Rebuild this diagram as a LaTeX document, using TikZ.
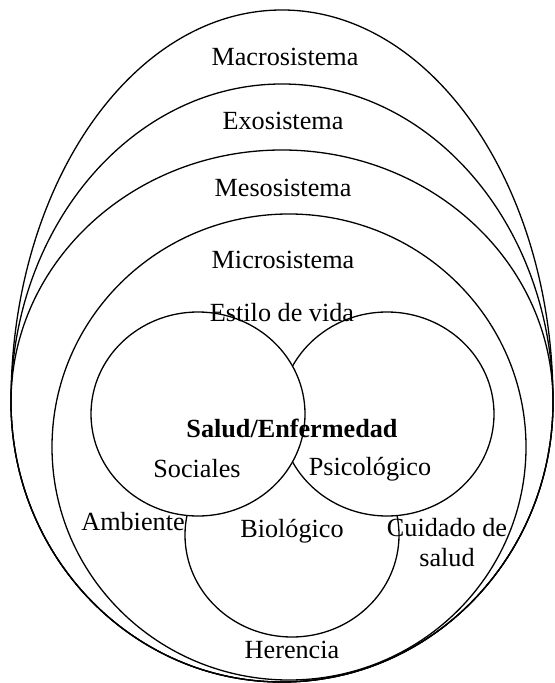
\documentclass[tikz,border=0pt]{standalone}
\usepackage{fontspec}
\setmainfont{Liberation Serif}
\usetikzlibrary{positioning}

\begin{document}
\begin{tikzpicture}[x=0.5pt,y=-0.5pt,line join=bevel,
  ring/.style={draw=black,line width=0.65pt},
  sphere/.style={draw=black,fill=white,line width=0.65pt},
  txt/.style={inner sep=0pt,align=center,font=\fontsize{13.1}{15}\selectfont}]
  \useasboundingbox (0,0) rectangle (554,683);
%%
  % Ring: Macrosistema
  \draw[ring] (11,402) arc[start angle=180,end angle=360,x radius=271,y radius=392]
    arc[start angle=0,end angle=180,x radius=271,y radius=280];
  % Ring: Exosistema
  \draw[ring] (11,402) arc[start angle=180,end angle=360,x radius=271,y radius=318]
    arc[start angle=0,end angle=180,x radius=271,y radius=280];
  % Ring: Mesosistema
  \draw[ring] (11,402) arc[start angle=180,end angle=360,x radius=271,y radius=252]
    arc[start angle=0,end angle=180,x radius=271,y radius=280];
  % Ring: Microsistema
  \draw[ring] (289,447) ellipse[x radius=237,y radius=233];
  % Circle: Biologico
  \draw[sphere] (292,535) ellipse[x radius=107,y radius=102];
  % Circle: Psicologico
  \draw[sphere] (387,414) ellipse[x radius=107,y radius=102];
  % Circle: Sociales
  \draw[sphere] (198,414) ellipse[x radius=107,y radius=102];
%%
  \node[txt] (macro) at (285,57) {Macrosistema};
  \node[txt] (exo) at (283,121) {Exosistema};
  \node[txt] (meso) at (283,188) {Mesosistema};
  \node[txt] (micro) at (283,260) {Microsistema};
  \node[txt] (estilo) at (282,313) {Estilo de vida};
  \node[txt,font=\fontsize{13.1}{15}\selectfont\bfseries] (salud) at (292,428) {Salud/Enfermedad};
  \node[txt] (sociales) at (197,469) {Sociales};
  \node[txt] (psico) at (370,469) {Psicológico};
  \node[txt] (ambiente) at (133,522) {Ambiente};
  \node[txt] (bio) at (292,531) {Biológico};
  \node[txt] (cuidado) at (447,543) {Cuidado de\\salud};
  \node[txt] (herencia) at (292,650) {Herencia};
%
\end{tikzpicture}
\end{document}
